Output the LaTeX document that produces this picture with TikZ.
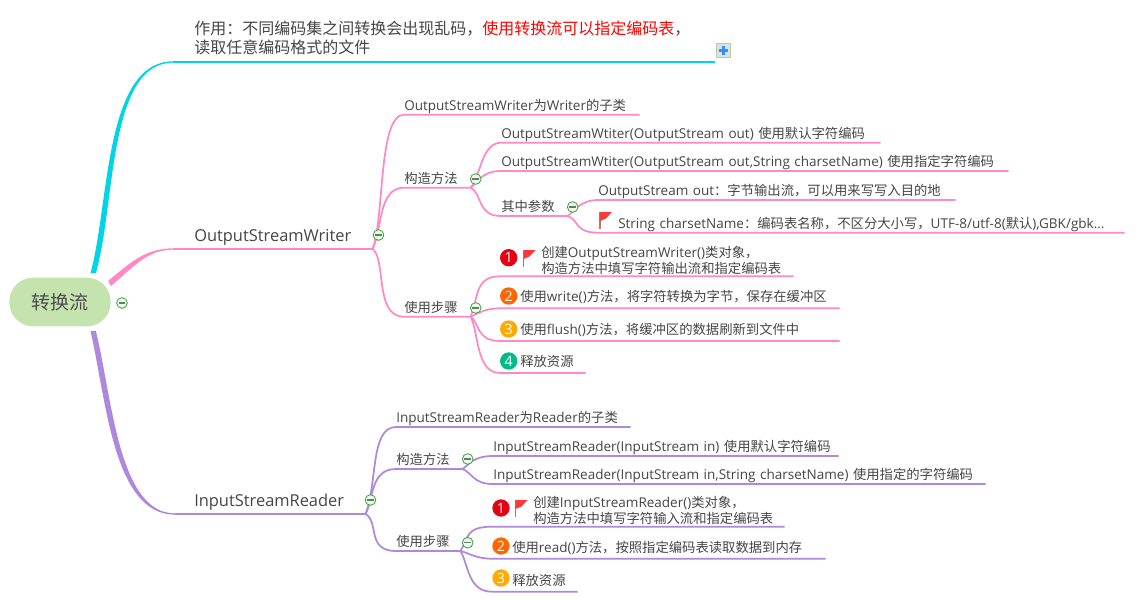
\documentclass[tikz,border=0pt]{standalone}
\usepackage{fontspec}
\usepackage{xcolor}
\setmainfont[Scale=1.026]{Open Sans}
\newfontfamily\smallla[Scale=1.014]{Open Sans}
\newfontfamily\cjk{Noto Sans CJK SC}
\newcommand{\zh}[1]{{\cjk #1}}
\definecolor{txt}{HTML}{454545}
\definecolor{cyanln}{HTML}{00D5E8}
\definecolor{pinkln}{HTML}{FF88C6}
\definecolor{purpln}{HTML}{AD88DC}
\definecolor{rootfill}{HTML}{C5E3AF}
\definecolor{bredc}{HTML}{E60012}
\definecolor{bornc}{HTML}{FF6600}
\definecolor{bambc}{HTML}{FFAA00}
\definecolor{bgrnc}{HTML}{00BB88}
\usetikzlibrary{positioning, calc}
\tikzset{
  redflag/.pic={
    \fill[brown!70!gray] (0,0) rectangle (1.6,17);
    \fill[red!70!pink] (1,0) -- (13,0) -- (7,6.5) -- (1,9) -- cycle;
  }
}

\begin{document}
\begin{tikzpicture}[x=0.75pt, y=-0.75pt,
  topic/.style={anchor=south west, inner sep=0pt, align=left, text=txt,
                font=\smallla\fontsize{10}{10.5}\selectfont, text depth=3pt},
  bigtopic/.style={topic, font=\normalfont\fontsize{12}{14.25}\selectfont, text depth=5.5pt},
  wd/.style={text width=#1*0.75pt},
  pk/.style={draw=pinkln, line width=1.3pt},
  pu/.style={draw=purpln, line width=1.3pt},
  fold/.style={circle, draw=green!55!black!80, fill=green!8, minimum size=8pt, inner sep=0pt,
               line width=0.6pt,
               path picture={\draw[black!55, line width=0.8pt]
                 ([xshift=-2.5pt]path picture bounding box.center) --
                 ([xshift=2.5pt]path picture bounding box.center);}},
  badge/.style={circle, fill=#1, text=white, minimum size=13pt, inner sep=0pt,
                font=\smallla\fontsize{10.5}{11}\selectfont}]
\useasboundingbox (0,0) rectangle (1140,600);

% root
\node[draw=white, line width=1pt, fill=rootfill, rounded corners=18pt, minimum width=77pt, minimum height=37.5pt,
      inner sep=0pt, text=black!70, font=\fontsize{14.25}{16}\selectfont] (root) at (60,302) {\zh{转换流}};

% first level
\node[bigtopic, wd=520, text depth=20.5pt] (use) at (194,62)
  {\zh{作用：不同编码集之间转换会出现乱码，\textcolor{red}{使用转换流可以指定编码表}，}\\\zh{读取任意编码格式的文件}};
\node[bigtopic, wd=178] (osw) at (194,249) {OutputStreamWriter};
\node[bigtopic, wd=171] (isr) at (194,514) {InputStreamReader};

% OutputStreamWriter
\node[topic, wd=235] (oa) at (404,114.7) {OutputStreamWriter\zh{为}Writer\zh{的子类}};
\node[topic, wd=66] (ob) at (404,187.7) {\zh{构造方法}};
\node[topic, wd=66] (oc) at (404,316.7) {\zh{使用步骤}};
\node[topic, wd=379] (oba) at (501,142.7) {OutputStreamWtiter(OutputStream out) \zh{使用默认字符编码}};
\node[topic, wd=507] (obb) at (501,171) {OutputStreamWtiter(OutputStream out,String charsetName) \zh{使用指定字符编码}};
\node[topic, wd=66] (obc) at (501,216) {\zh{其中参数}};
\node[topic, wd=357] (obca) at (598,200) {OutputStream out\zh{：字节输出流，可以用来写写入目的地}};
\node[topic, wd=506] (obcb) at (618,232.7) {String charsetName\zh{：编码表名称，不区分大小写，}UTF-8/utf-8(\zh{默认}),GBK/gbk...};
\node[topic, wd=252, text depth=14pt] (oca) at (541,276.3) {\zh{创建}OutputStreamWriter()\zh{类对象，}\\\zh{构造方法中填写字符输出流和指定编码表}};
\node[topic, wd=319, text depth=4.7pt] (ocb) at (520,308.3) {\zh{使用}write()\zh{方法，将字符转换为字节，保存在缓冲区}};
\node[topic, wd=319, text depth=4.7pt] (occ) at (520,341) {\zh{使用}flush()\zh{方法，将缓冲区的数据刷新到文件中}};
\node[topic, wd=65, text depth=4.7pt] (ocd) at (520,373) {\zh{释放资源}};

% InputStreamReader
\node[topic, wd=234] (ia) at (396,427) {InputStreamReader\zh{为}Reader\zh{的子类}};
\node[topic, wd=66] (ib) at (396,469) {\zh{构造方法}};
\node[topic, wd=64] (ic) at (396,551) {\zh{使用步骤}};
\node[topic, wd=345] (iba) at (493,456) {InputStreamReader(InputStream in) \zh{使用默认字符编码}};
\node[topic, wd=492] (ibb) at (493,484) {InputStreamReader(InputStream in,String charsetName) \zh{使用指定的字符编码}};
\node[topic, wd=251, text depth=14pt] (ica) at (533,526.7) {\zh{创建}InputStreamReader()\zh{类对象，}\\\zh{构造方法中填写字符输入流和指定编码表}};
\node[topic, wd=313, text depth=4.7pt] (icb) at (512,558.7) {\zh{使用}read()\zh{方法，按照指定编码表读取数据到内存}};
\node[topic, wd=65, text depth=4.7pt] (icc) at (512,591.7) {\zh{释放资源}};

% badges
\node[badge=bredc] (oc1) at (508.7,257.7) {1};
\node[badge=bornc] (oc2) at (508.7,296) {2};
\node[badge=bambc] (oc3) at (508.7,329) {3};
\node[badge=bgrnc] (oc4) at (508.7,361) {4};
\node[badge=bredc] (ic1) at (501,508) {1};
\node[badge=bornc] (ic2) at (501,546) {2};
\node[badge=bambc] (ic3) at (501,578) {3};
\pic at (522.5,250) {redflag};
\pic at (514.5,500) {redflag};
\pic at (599,212) {redflag};

% branches from the root
\coordinate (ca) at ([xshift=23.5pt,yshift=3pt]root.north);
\coordinate (cb) at ([xshift=26.5pt,yshift=3pt]root.north);
\coordinate (cc) at (173,62);
\path[fill=cyanln, draw=cyanln, line width=1pt] (ca) .. controls (110,205) and (105,62) .. (cc) .. controls (107,62) and (115,205) .. (cb) -- cycle;
\draw[cyanln, line width=1.5pt] (cc) -- (use.south east);
\coordinate (pa) at (109,281);
\coordinate (pb) at (111,285);
\coordinate (pc) at (173,249);
\path[fill=pinkln, draw=pinkln, line width=1pt] (pa) .. controls (130,264) and (145,249) .. (pc) .. controls (146,249) and (132,268) .. (pb) -- cycle;
\draw[pk] (pc) -- (osw.south east);
\coordinate (ua) at ([xshift=23.5pt,yshift=-3pt]root.south);
\coordinate (ub) at ([xshift=26.5pt,yshift=-3pt]root.south);
\coordinate (uc) at (175,514);
\path[fill=purpln, draw=purpln, line width=1pt] (ua) .. controls (107,400) and (114,514) .. (uc) .. controls (118,514) and (112,400) .. (ub) -- cycle;
\draw[pu] (uc) -- (isr.south east);

% OutputStreamWriter connectors
\draw[pk] (osw.south east) .. controls +(12,-30) and +(-26,0) .. (oa.south west) -- (oa.south east);
\draw[pk] (osw.south east) .. controls +(10,-20) and +(-26,0) .. (ob.south west) -- (ob.south east);
\draw[pk] (osw.south east) .. controls +(14,10) and +(-30,0) .. (oc.south west) -- (oc.south east);
\draw[pk] (ob.south east) .. controls +(10,-10) and +(-20,0) .. (oba.south west) -- (oba.south east);
\draw[pk] (ob.south east) .. controls +(6,-4) and +(-20,0) .. (obb.south west) -- (obb.south east);
\draw[pk] (ob.south east) .. controls +(12,6) and +(-24,0) .. (obc.south west) -- (obc.south east);
\draw[pk] (obc.south east) .. controls +(6,-4) and +(-18,0) .. (obca.south west) -- (obca.south east);
\draw[pk] (obc.south east) .. controls +(12,4) and +(-24,0) .. (obca.south west |- obcb.south) -- (obcb.south east);
\draw[pk] (oc.south east) .. controls +(8,-17) and +(-26,0) .. (oc1.west |- oca.south) -- (oca.south east);
\draw[pk] (oc.south east) .. controls +(6,-2) and +(-16,0) .. (oc2.west |- ocb.south) -- (ocb.south east);
\draw[pk] (oc.south east) .. controls +(8,4) and +(-24,0) .. (oc3.west |- occ.south) -- (occ.south east);
\draw[pk] (oc.south east) .. controls +(8,14) and +(-24,0) .. (oc4.west |- ocd.south) -- (ocd.south east);

% InputStreamReader connectors
\draw[pu] (isr.south east) .. controls +(12,-30) and +(-26,0) .. (ia.south west) -- (ia.south east);
\draw[pu] (isr.south east) .. controls +(8,-14) and +(-26,0) .. (ib.south west) -- (ib.south east);
\draw[pu] (isr.south east) .. controls +(14,8) and +(-30,0) .. (ic.south west) -- (ic.south east);
\draw[pu] (ib.south east) .. controls +(6,-4) and +(-20,0) .. (iba.south west) -- (iba.south east);
\draw[pu] (ib.south east) .. controls +(10,4) and +(-20,0) .. (ibb.south west) -- (ibb.south east);
\draw[pu] (ic.south east) .. controls +(8,-14) and +(-26,0) .. (ic1.west |- ica.south) -- (ica.south east);
\draw[pu] (ic.south east) .. controls +(8,2) and +(-16,0) .. (ic2.west |- icb.south) -- (icb.south east);
\draw[pu] (ic.south east) .. controls +(8,14) and +(-24,0) .. (ic3.west |- icc.south) -- (icc.south east);

% fold marks
\node[fold] (frt) at (122,303) {};
\node[fold] (fosw) at (378.5,235) {};
\node[fold] (fob) at (475.7,179) {};
\node[fold] (fobc) at (572.7,207) {};
\node[fold] (foc) at (475.7,308) {};
\node[fold] (fisr) at (370.5,500) {};
\node[fold] (fib) at (467.7,459) {};
\node[fold] (fic) at (467.7,542.7) {};
\node[draw=green!20!gray!50, fill=green!15!gray!25, line width=0.8pt, minimum size=10.5pt, inner sep=0pt,
      path picture={\draw[blue!55!cyan!80, line width=1.6pt]
        ([xshift=-3.6pt]path picture bounding box.center) -- ([xshift=3.6pt]path picture bounding box.center)
        ([yshift=-3.6pt]path picture bounding box.center) -- ([yshift=3.6pt]path picture bounding box.center);}]
  (more) at (723.5,50.5) {};
\end{tikzpicture}
\end{document}
